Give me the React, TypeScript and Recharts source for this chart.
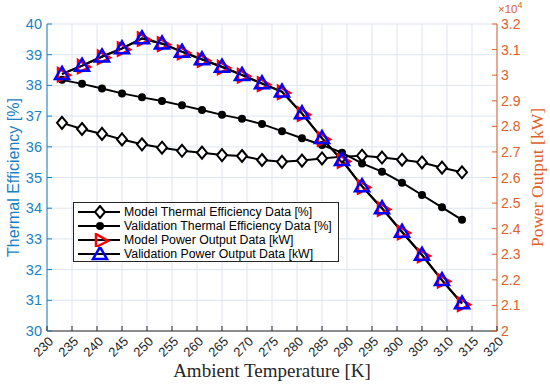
import React from "react";
import {
  LineChart,
  Line,
  XAxis,
  YAxis,
  CartesianGrid,
  Label,
} from "recharts";

// Ambient temperature [K]
const temps = [
  233, 237, 241, 245, 249, 253, 257, 261, 265, 269, 273, 277, 281, 285, 289,
  293, 297, 301, 305, 309, 313,
];

// Thermal efficiency [%]
const modelEff = [
  36.78, 36.58, 36.42, 36.24, 36.08, 35.97, 35.87, 35.81, 35.73, 35.7, 35.57,
  35.51, 35.55, 35.62, 35.68, 35.71, 35.65, 35.58, 35.49, 35.32, 35.17,
];
const validationEff = [
  38.18, 38.05, 37.9, 37.74, 37.61, 37.49, 37.35, 37.2, 37.04, 36.91, 36.74,
  36.51, 36.28, 36.06, 35.81, 35.46, 35.19, 34.83, 34.43, 34.03, 33.62,
];

// Power output [kW]
const modelPower = [
  30040, 30360, 30720, 31040, 31430, 31230, 30910, 30610, 30320, 30000, 29670,
  29350, 28500, 27530, 26670, 25650, 24790, 23870, 22970, 21980, 21070,
];
const validationPower = [
  30050, 30370, 30730, 31050, 31440, 31240, 30920, 30620, 30330, 30010, 29680,
  29360, 28510, 27540, 26680, 25660, 24800, 23880, 22980, 21990, 21080,
];

const xTicks = [
  230, 235, 240, 245, 250, 255, 260, 265, 270, 275, 280, 285, 290, 295, 300,
  305, 310, 315, 320,
];
const effTicks = [30, 31, 32, 33, 34, 35, 36, 37, 38, 39, 40];
const powerTicks = [
  20000, 21000, 22000, 23000, 24000, 25000, 26000, 27000, 28000, 29000, 30000,
  31000, 32000,
];

const BLUE_AX = "#1a7fc6";
const ORANGE_AX = "#e0602a";
const DARK = "#262626";
const SANS = "'Liberation Sans', Arial, sans-serif";
const SERIF = "'Liberation Serif', 'Times New Roman', serif";

const data = temps.map((t, i) => ({
  temp: t,
  modelEff: modelEff[i],
  validationEff: validationEff[i],
  modelPower: modelPower[i],
  validationPower: validationPower[i],
}));

// markers
const diamond = (cx: number, cy: number, key?: string) => (
  <polygon
    key={key}
    points={`${cx},${cy - 6} ${cx + 5},${cy} ${cx},${cy + 6} ${cx - 5},${cy}`}
    fill="#fff"
    stroke="#000"
    strokeWidth={2}
  />
);
const dotMark = (cx: number, cy: number, key?: string) => (
  <circle key={key} cx={cx} cy={cy} r={4} fill="#000" />
);
const rightTri = (cx: number, cy: number, key?: string) => (
  <polygon
    key={key}
    points={`${cx - 4},${cy - 6} ${cx + 8},${cy + 1} ${cx - 4},${cy + 7}`}
    fill="none"
    stroke="#ff0000"
    strokeWidth={2.5}
  />
);
const upTri = (cx: number, cy: number, key?: string) => (
  <polygon
    key={key}
    points={`${cx},${cy - 7} ${cx + 7},${cy + 5} ${cx - 7},${cy + 5}`}
    fill="none"
    stroke="#0000ff"
    strokeWidth={2.5}
  />
);

const makeDot =
  (fn: (cx: number, cy: number, key?: string) => React.ReactElement) =>
  (props: any) => {
    const { cx, cy, index } = props;
    if (typeof cx !== "number" || typeof cy !== "number") return <g key={index} />;
    return fn(cx, cy, `d-${index}`);
  };

// inward ticks (tickSize 0 so x/y sit on the axis line)
const XTick = (props: any) => {
  const { x, y, payload } = props;
  return (
    <g>
      <line x1={x} y1={y} x2={x} y2={y - 5} stroke={DARK} strokeWidth={1} />
      <text
        x={x + 4}
        y={y + 8}
        transform={`rotate(-45, ${x + 4}, ${y + 8})`}
        textAnchor="end"
        dominantBaseline="central"
        fontSize={13}
        fontFamily={SANS}
        fill={DARK}
      >
        {payload.value}
      </text>
    </g>
  );
};

const LeftTick = (props: any) => {
  const { x, y, payload } = props;
  return (
    <g>
      <line x1={x} y1={y} x2={x + 5} y2={y} stroke={BLUE_AX} strokeWidth={1} />
      <text
        x={x - 5}
        y={y}
        textAnchor="end"
        dominantBaseline="central"
        fontSize={14.5}
        fontFamily={SANS}
        fill={BLUE_AX}
      >
        {payload.value}
      </text>
    </g>
  );
};

const RightTick = (props: any) => {
  const { x, y, payload } = props;
  const label = Number((payload.value / 10000).toFixed(1)).toString();
  return (
    <g>
      <line x1={x} y1={y} x2={x - 5} y2={y} stroke={ORANGE_AX} strokeWidth={1} />
      <text
        x={x + 4}
        y={y}
        textAnchor="start"
        dominantBaseline="central"
        fontSize={14}
        fontFamily={SANS}
        fill={ORANGE_AX}
      >
        {label}
      </text>
    </g>
  );
};

const legendItems = [
  { name: "Model Thermal Efficiency Data [%]", mark: diamond },
  { name: "Validation Thermal Efficiency Data [%]", mark: dotMark },
  { name: "Model Power Output Data [kW]", mark: rightTri },
  { name: "Validation Power Output Data [kW]", mark: upTri },
];

const LegendBox = () => (
  <div
    style={{
      position: "absolute",
      left: 73,
      top: 202,
      width: 266,
      height: 60,
      background: "#fff",
      border: `1px solid ${DARK}`,
      boxSizing: "border-box",
      padding: "2px 0 0 0",
    }}
  >
    {legendItems.map((it) => (
      <div
        key={it.name}
        style={{ display: "flex", alignItems: "center", height: 14 }}
      >
        <svg width={50} height={14} style={{ flex: "none" }}>
          <line x1={4} y1={7} x2={46} y2={7} stroke="#000" strokeWidth={2} />
          {it.mark(26, 7)}
        </svg>
        <span
          style={{
            fontFamily: SANS,
            fontSize: 12.3,
            color: "#000",
            whiteSpace: "nowrap",
          }}
        >
          {it.name}
        </span>
      </div>
    ))}
  </div>
);

export default function App() {
  return (
    <div
      style={{
        position: "absolute",
        left: 0,
        top: 0,
        width: 550,
        height: 385,
        background: "#fff",
      }}
    >
      <LineChart
        width={550}
        height={385}
        data={data}
        margin={{ top: 24, right: 8, bottom: 0, left: 0 }}
      >
        <CartesianGrid yAxisId="left" stroke="#dde5ee" strokeWidth={1} />
        <XAxis
          type="number"
          dataKey="temp"
          domain={[230, 320]}
          ticks={xTicks}
          interval={0}
          height={54}
          tickSize={0}
          tickMargin={0}
          tickLine={false}
          axisLine={{ stroke: DARK, strokeWidth: 1 }}
          tick={<XTick />}
        >
          <Label
            content={(p: any) => {
              const vb = p.viewBox || {};
              return (
                <text
                  x={vb.x + vb.width / 2}
                  y={377}
                  textAnchor="middle"
                  fontSize={19}
                  fontFamily={SERIF}
                  fill={DARK}
                >
                  Ambient Temperature [K]
                </text>
              );
            }}
          />
        </XAxis>
        <YAxis
          yAxisId="left"
          orientation="left"
          domain={[30, 40]}
          ticks={effTicks}
          interval={0}
          width={47}
          tickSize={0}
          tickMargin={0}
          tickLine={false}
          axisLine={{ stroke: BLUE_AX, strokeWidth: 1 }}
          tick={<LeftTick />}
        >
          <Label
            content={(p: any) => {
              const vb = p.viewBox || {};
              const cy = vb.y + vb.height / 2;
              return (
                <text
                  x={13}
                  y={cy}
                  transform={`rotate(-90, 13, ${cy})`}
                  textAnchor="middle"
                  dominantBaseline="central"
                  fontSize={16}
                  fontFamily={SANS}
                  fill={BLUE_AX}
                >
                  Thermal Efficiency [%]
                </text>
              );
            }}
          />
        </YAxis>
        <YAxis
          yAxisId="right"
          orientation="right"
          domain={[20000, 32000]}
          ticks={powerTicks}
          interval={0}
          width={45}
          tickSize={0}
          tickMargin={0}
          tickLine={false}
          axisLine={{ stroke: ORANGE_AX, strokeWidth: 1 }}
          tick={<RightTick />}
        >
          <Label
            content={(p: any) => {
              const vb = p.viewBox || {};
              const cy = vb.y + vb.height / 2;
              const lx = 537;
              return (
                <g>
                  <text
                    x={lx}
                    y={cy}
                    transform={`rotate(-90, ${lx}, ${cy})`}
                    textAnchor="middle"
                    dominantBaseline="central"
                    fontSize={17.5}
                    fontFamily={SERIF}
                    fill={ORANGE_AX}
                  >
                    Power Output [kW]
                  </text>
                  <text
                    x={vb.x + 1}
                    y={13}
                    fontSize={11.5}
                    fontFamily={SANS}
                    fill={ORANGE_AX}
                  >
                    ×10
                    <tspan dy={-5} fontSize={9}>
                      4
                    </tspan>
                  </text>
                </g>
              );
            }}
          />
        </YAxis>
        <Line
          yAxisId="left"
          dataKey="modelEff"
          stroke="#000"
          strokeWidth={2}
          dot={makeDot(diamond)}
          activeDot={false}
          isAnimationActive={false}
        />
        <Line
          yAxisId="left"
          dataKey="validationEff"
          stroke="#000"
          strokeWidth={2}
          dot={makeDot(dotMark)}
          activeDot={false}
          isAnimationActive={false}
        />
        <Line
          yAxisId="right"
          dataKey="modelPower"
          stroke="#000"
          strokeWidth={2}
          dot={makeDot(rightTri)}
          activeDot={false}
          isAnimationActive={false}
        />
        <Line
          yAxisId="right"
          dataKey="validationPower"
          stroke="#000"
          strokeWidth={2}
          dot={makeDot(upTri)}
          activeDot={false}
          isAnimationActive={false}
        />
      </LineChart>
      <LegendBox />
    </div>
  );
}
